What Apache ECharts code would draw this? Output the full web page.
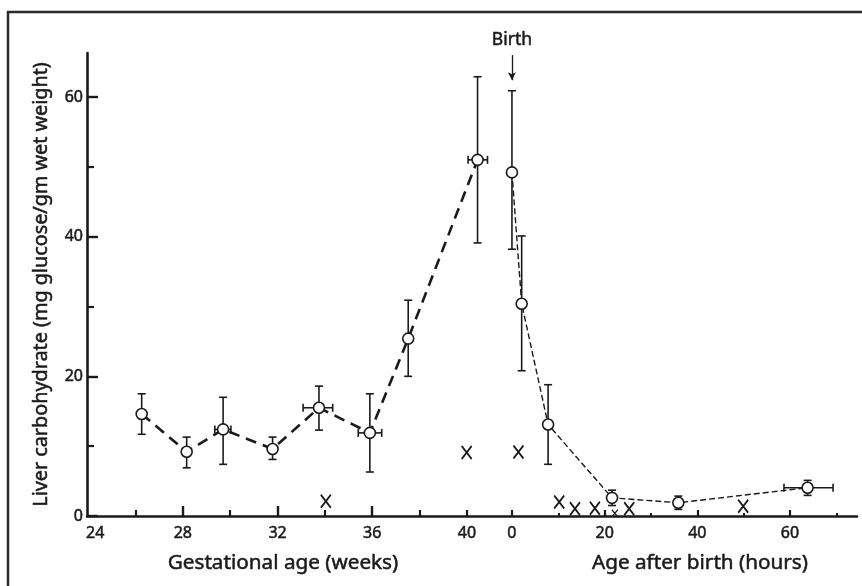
<!DOCTYPE html>
<html>
<head>
<meta charset="utf-8">
<script src="https://cdn.jsdelivr.net/npm/echarts@6/dist/echarts.min.js"></script>
<style>html,body{margin:0;background:#fff}#chart{width:862px;height:586px}</style>
</head>
<body>
<div id="chart"></div>
<script>
// gestational age (weeks): mean with range bars
const gestWeeks  = [26.26, 28.16, 29.70, 31.79, 33.75, 35.90, 37.52, 40.45]
const gestMean   = [14.6, 9.2, 12.4, 9.6, 15.5, 11.9, 25.4, 51.0]
const gestLow    = [11.7, 6.9, 7.4, 8.1, 12.3, 6.3, 20.0, 39.1]
const gestHigh   = [17.5, 11.3, 17.0, 11.3, 18.6, 17.5, 30.9, 62.9]
const gestWkLow  = [null, null, 29.35, null, 33.08, 35.41, null, 40.05]
const gestWkHigh = [null, null, 30.03, null, 34.33, 36.40, null, 40.87]

// age after birth (hours)
const birthHours  = [0, 2.1, 7.8, 21.6, 35.9, 63.8]
const birthMean   = [49.2, 30.4, 13.1, 2.6, 1.9, 4.05]
const birthLow    = [38.2, 20.8, 7.4, 1.5, 0.95, 2.95]
const birthHigh   = [60.9, 40.1, 18.8, 3.7, 2.85, 5.1]
const birthHrLow  = [null, null, null, null, null, 58.7]
const birthHrHigh = [null, null, null, null, null, 69.3]

// single observations, drawn as "X"
const gestSingleWeeks  = [34.04, 39.99]
const gestSingleVal    = [2.1, 9.1]
const birthSingleHours = [1.4, 10.2, 13.6, 17.9, 25.3, 49.9]
const birthSingleVal   = [9.15, 2.0, 1.05, 1.1, 1.05, 1.4]
const birthSmallHours  = [22.2]
const birthSmallVal    = [0.4]

// ticks / labels
const weekTicksMajor = [28, 32, 36]
const weekTicksMinor = [26, 30, 34, 38, 40]
const weekLabels     = [24, 28, 32, 36, 40]
const hourTicks      = [0, 20, 40, 60]
const hourTicksMinor = [10, 30, 50, 70]
const hourLabels     = [0, 20, 40, 60]
const yTicksMajor    = [0, 20, 40, 60]
const yTicksMinor    = [10, 30, 50]
const yLabels        = [0, 20, 40, 60]

const INK = '#1a1a1a'
const FONT = 'Noto Sans'
// a thin outline on the glyphs to get closer to the heavier print face
const heavy = { textBorderColor: INK, textBorderWidth: 0.5 }

function errorBars (params, api) {
  const x = api.value(0)
  const top = api.coord([x, api.value(2)])
  const bot = api.coord([x, api.value(1)])
  const c = 4
  const children = [
    { type: 'line', shape: { x1: top[0], y1: top[1], x2: bot[0], y2: bot[1] } },
    { type: 'line', shape: { x1: top[0] - c, y1: top[1], x2: top[0] + c, y2: top[1] } },
    { type: 'line', shape: { x1: bot[0] - c, y1: bot[1], x2: bot[0] + c, y2: bot[1] } }
  ]
  const xl = api.value(3), xh = api.value(4)
  if (xh - xl > 0) {
    const y = api.value(5)
    const l = api.coord([xl, y]), r = api.coord([xh, y])
    children.push(
      { type: 'line', shape: { x1: l[0], y1: l[1], x2: r[0], y2: r[1] } },
      { type: 'line', shape: { x1: l[0], y1: l[1] - c, x2: l[0], y2: l[1] + c } },
      { type: 'line', shape: { x1: r[0], y1: r[1] - c, x2: r[0], y2: r[1] + c } }
    )
  }
  children.forEach(ch => { ch.style = { stroke: INK, lineWidth: 1.6 } })
  return { type: 'group', children }
}

const barData = (xs, lo, hi, xlo, xhi, mean) =>
  xs.map((x, i) => [x, lo[i], hi[i], xlo[i] == null ? x : xlo[i], xhi[i] == null ? x : xhi[i], mean[i]])

const WEEK_MIN = 23.95, WEEK_MAX = 56.48
const HOUR_MIN = -91.7, HOUR_MAX = 74.46

const hidden = { axisLine: { show: false, onZero: false }, splitLine: { show: false }, axisLabel: { show: false } }

const X_PATH = 'path://M0 0L10 12M10 0L0 12'
const xMark = (size, lw) => ({
  type: 'scatter',
  symbol: X_PATH,
  symbolSize: size,
  itemStyle: { color: 'none', borderColor: INK, borderWidth: lw, opacity: 1 },
  z: 4
})

const tickFont = Object.assign({ color: INK, fontSize: 16, fontFamily: FONT }, heavy)

const option = {
  animation: false,
  backgroundColor: '#fff',
  grid: { left: 87, right: 5, top: 53, bottom: 70 },
  xAxis: [
    {
      type: 'value', position: 'bottom', min: WEEK_MIN, max: WEEK_MAX,
      axisLine: { onZero: false, lineStyle: { color: INK, width: 2.6 } },
      splitLine: { show: false },
      axisTick: { inside: true, length: 10, customValues: weekTicksMajor, lineStyle: { color: INK, width: 2.4 } },
      axisLabel: Object.assign({
        customValues: weekLabels, margin: 9,
        formatter: v => v === 24 ? '{s|24}' : String(v),
        rich: { s: Object.assign({ padding: [0, 0, 0, 14] }, tickFont) }
      }, tickFont)
    },
    Object.assign({
      type: 'value', position: 'bottom', min: WEEK_MIN, max: WEEK_MAX,
      axisTick: { inside: true, length: 6, customValues: weekTicksMinor, lineStyle: { color: INK, width: 2.2 } }
    }, hidden),
    {
      type: 'value', position: 'bottom', min: HOUR_MIN, max: HOUR_MAX,
      axisLine: { show: false, onZero: false }, splitLine: { show: false },
      axisTick: { inside: true, length: 6, customValues: hourTicks, lineStyle: { color: INK, width: 2.2 } },
      axisLabel: Object.assign({ customValues: hourLabels, margin: 9 }, tickFont)
    },
    Object.assign({
      type: 'value', position: 'bottom', min: HOUR_MIN, max: HOUR_MAX,
      axisTick: { inside: true, length: 3, customValues: hourTicksMinor, lineStyle: { color: INK, width: 2 } }
    }, hidden)
  ],
  yAxis: [
    {
      type: 'value', position: 'left', min: 0, max: 66.3,
      axisLine: { onZero: false, lineStyle: { color: INK, width: 2.6 } },
      splitLine: { show: false },
      axisTick: { inside: true, length: 11, customValues: yTicksMajor, lineStyle: { color: INK, width: 2.4 } },
      axisLabel: Object.assign({ customValues: yLabels, margin: 4 }, tickFont),
      name: 'Liver carbohydrate (mg glucose/gm wet weight)',
      nameLocation: 'middle', nameGap: 36,
      nameTextStyle: Object.assign({ color: INK, fontSize: 19.8, fontFamily: FONT }, heavy)
    },
    Object.assign({
      type: 'value', position: 'left', min: 0, max: 66.3,
      axisTick: { inside: true, length: 7, customValues: yTicksMinor, lineStyle: { color: INK, width: 2.2 } }
    }, hidden)
  ],
  graphic: [
    { type: 'line', shape: { x1: 7, y1: 12, x2: 862, y2: 12 }, style: { stroke: '#2a2a2a', lineWidth: 2.5 } },
    { type: 'line', shape: { x1: 8, y1: 11, x2: 8, y2: 586 }, style: { stroke: '#2a2a2a', lineWidth: 2.5 } },
    { type: 'text', x: 283, y: 563, style: { text: 'Gestational age (weeks)', align: 'center', verticalAlign: 'middle', fontSize: 20.7, fontFamily: FONT, fill: INK, stroke: INK, lineWidth: 0.5 } },
    { type: 'text', x: 700, y: 563, style: { text: 'Age after birth (hours)', align: 'center', verticalAlign: 'middle', fontSize: 20.7, fontFamily: FONT, fill: INK, stroke: INK, lineWidth: 0.5 } }
  ],
  series: [
    {
      type: 'custom', xAxisIndex: 0, yAxisIndex: 0, z: 1,
      renderItem: errorBars,
      data: barData(gestWeeks, gestLow, gestHigh, gestWkLow, gestWkHigh, gestMean)
    },
    {
      type: 'custom', xAxisIndex: 2, yAxisIndex: 0, z: 1,
      renderItem: errorBars,
      data: barData(birthHours, birthLow, birthHigh, birthHrLow, birthHrHigh, birthMean)
    },
    {
      type: 'line', xAxisIndex: 0, yAxisIndex: 0, z: 3,
      data: gestWeeks.map((w, i) => [w, gestMean[i]]),
      symbol: 'circle', symbolSize: 11,
      itemStyle: { color: '#fff', borderColor: INK, borderWidth: 1.6 },
      lineStyle: { color: INK, width: 2.6, type: [11, 7] }
    },
    {
      type: 'line', xAxisIndex: 2, yAxisIndex: 0, z: 3,
      data: birthHours.map((h, i) => [h, birthMean[i]]),
      symbol: 'circle', symbolSize: 11,
      itemStyle: { color: '#fff', borderColor: INK, borderWidth: 1.6 },
      lineStyle: { color: INK, width: 1.4, type: [6, 3] },
      markLine: {
        silent: true,
        symbol: ['none', 'arrow'], symbolSize: [6, 8],
        lineStyle: { color: INK, width: 1.3, type: 'solid' },
        label: Object.assign({ show: true, position: 'start', formatter: 'Birth', color: INK, fontSize: 17.5, fontFamily: FONT, distance: 6 }, heavy),
        data: [[{ coord: [0, 66.0] }, { coord: [0, 62.4] }]]
      }
    },
    Object.assign(xMark([10, 13], 1.9), { xAxisIndex: 0, yAxisIndex: 0, data: gestSingleWeeks.map((w, i) => [w, gestSingleVal[i]]) }),
    Object.assign(xMark([10, 13], 1.9), { xAxisIndex: 2, yAxisIndex: 0, data: birthSingleHours.map((h, i) => [h, birthSingleVal[i]]) }),
    Object.assign(xMark([6, 7], 1.3), { xAxisIndex: 2, yAxisIndex: 0, data: birthSmallHours.map((h, i) => [h, birthSmallVal[i]]) })
  ]
}

const chart = echarts.init(document.getElementById('chart'), null, { renderer: 'canvas' })
chart.setOption(option)
</script>
</body>
</html>
